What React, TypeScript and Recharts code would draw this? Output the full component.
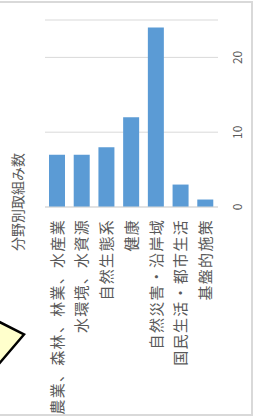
import React from "react";
import { BarChart, Bar, XAxis, YAxis, CartesianGrid } from "recharts";

const categories = [
  "農業、森林、林業、水産業",
  "水環境、水資源",
  "自然生態系",
  "健康",
  "自然災害・沿岸域",
  "国民生活・都市生活",
  "基盤的施策",
];
const counts = [7, 7, 8, 12, 24, 3, 1];
const valueTicks = [0, 10, 20];
const titleText = "分野別取組み数";

const data = categories.map((name, i) => ({ name, value: counts[i] }));

const FONT = '"Noto Sans CJK JP", "Noto Sans", sans-serif';

export default function App() {
  return (
    <div
      style={{
        position: "fixed",
        left: 0,
        top: 0,
        width: 255,
        height: 416,
        overflow: "hidden",
        background: "#ffffff",
      }}
    >
      <div
        style={{
          position: "absolute",
          left: 0,
          top: 0,
          width: 416,
          height: 255,
          transformOrigin: "0 0",
          transform: "translateY(416px) rotate(-90deg)",
        }}
      >
        <div
          style={{
            position: "absolute",
            left: 6,
            top: 7,
            width: 416,
            lineHeight: "20px",
            textAlign: "center",
            fontFamily: FONT,
            fontSize: 14,
            color: "#595959",
          }}
        >
          {titleText}
        </div>
        <BarChart
          width={416}
          height={255}
          data={data}
          layout="vertical"
          margin={{ top: 45, right: 20, bottom: 0, left: 0 }}
          barSize={16}
        >
          <CartesianGrid horizontal={false} stroke="#d9d9d9" />
          <XAxis
            type="number"
            domain={[0, 25]}
            ticks={valueTicks}
            axisLine={false}
            tickLine={false}
            tickSize={0}
            tickMargin={15}
            height={37}
            tick={{ fill: "#595959", fontSize: 12, fontFamily: FONT }}
          />
          <YAxis
            type="category"
            dataKey="name"
            width={209}
            axisLine={{ stroke: "#d9d9d9" }}
            tickLine={false}
            tickSize={0}
            tickMargin={12}
            interval={0}
            tick={{
              fill: "#595959",
              fontSize: 15,
              fontFamily: FONT,
              letterSpacing: 1.3,
            }}
          />
          <Bar dataKey="value" fill="#5b9bd5" isAnimationActive={false} />
        </BarChart>
      </div>
      <div
        style={{
          position: "absolute",
          left: -4,
          top: 1,
          width: 253,
          height: 411,
          border: "2px solid #d9d9d9",
          boxSizing: "content-box",
          pointerEvents: "none",
        }}
      />
      <svg
        width={255}
        height={416}
        style={{ position: "absolute", left: 0, top: 0 }}
      >
        <polygon
          points="-20,312 24,334.5 -20,386"
          fill="#ffffcc"
          stroke="#000000"
          strokeWidth={2.5}
        />
      </svg>
    </div>
  );
}
